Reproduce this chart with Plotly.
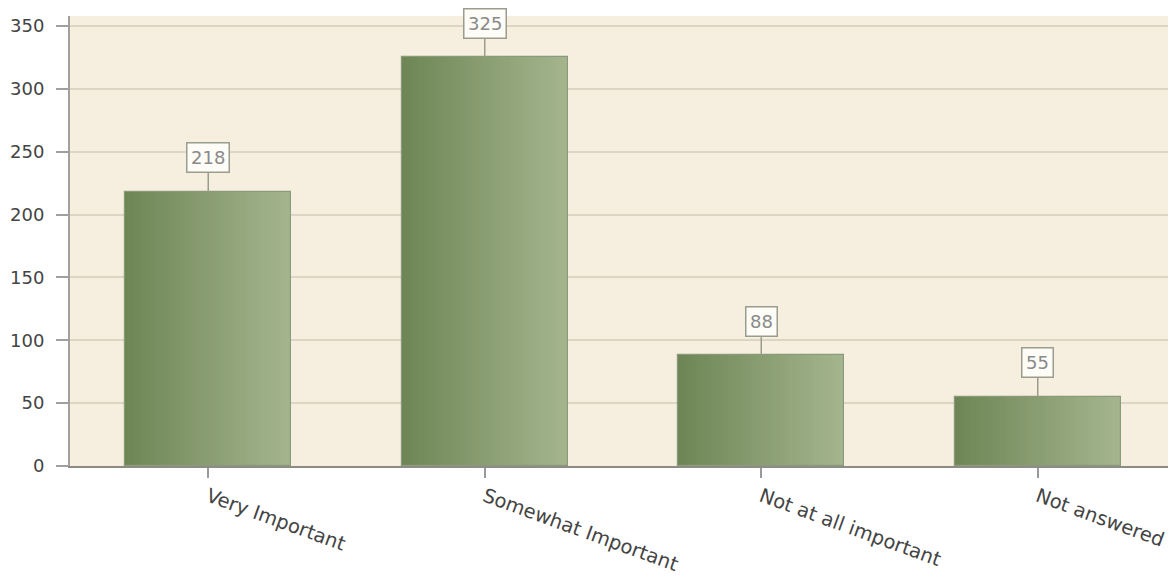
import plotly.graph_objects as go

categories = ["Very Important", "Somewhat Important", "Not at all important", "Not answered"]
values = [218, 325, 88, 55]
y_ticks = [0, 50, 100, 150, 200, 250, 300, 350]

BAR_W = 0.6
N_SLICES = 40
c_left = (110, 134, 86)
c_right = (164, 181, 141)

fig = go.Figure()
for i in range(N_SLICES):
    t = i / (N_SLICES - 1)
    col = tuple(round(a + (b - a) * t) for a, b in zip(c_left, c_right))
    fig.add_trace(go.Bar(
        x=categories, y=values,
        width=BAR_W / N_SLICES * 1.05,
        offset=-BAR_W / 2 + i * BAR_W / N_SLICES,
        marker=dict(color="rgb(%d,%d,%d)" % col, line=dict(width=0)),
        hoverinfo="skip", showlegend=False,
    ))
# outline
fig.add_trace(go.Bar(
    x=categories, y=values, width=BAR_W, offset=-BAR_W / 2,
    marker=dict(color="rgba(0,0,0,0)", line=dict(color="#8c9a7c", width=1.2)),
    showlegend=False,
))

for c, v in zip(categories, values):
    fig.add_annotation(
        x=c, y=v, text=str(v), showarrow=True, arrowhead=0, arrowwidth=1.5,
        arrowcolor="#9a9c8c", ax=0, ay=-34,
        bgcolor="#fdfcf7", bordercolor="#9a9c8c", borderwidth=1.5, borderpad=3.5,
        font=dict(family="DejaVu Sans", size=18, color="#8a8a8a"),
    )

fig.update_layout(
    width=1168, height=571,
    margin=dict(l=62, r=0, t=8, b=113),
    paper_bgcolor="white", plot_bgcolor="#f6efe0",
    barmode="overlay", bargap=0,
    font=dict(family="DejaVu Sans", size=18, color="#444444"),
    showlegend=False,
)
fig.update_xaxes(
    type="category", range=[-0.5, 3.5],
    tickangle=20, ticks="outside", ticklen=10, tickcolor="#9a9a9a", tickwidth=1.5,
    showline=True, linecolor="#8c8c84", linewidth=2,
    tickfont=dict(family="DejaVu Sans", size=19.5, color="#444444"),
    showgrid=False,
)
fig.update_yaxes(
    range=[0, 358], tickvals=y_ticks,
    ticks="outside", ticklen=12, tickcolor="#a0a0a0", tickwidth=1.5,
    showline=True, linecolor="#a0a0a0", linewidth=2,
    gridcolor="#ddd5c4", gridwidth=1.5, zeroline=False,
    ticklabelstandoff=8,
    tickfont=dict(family="DejaVu Sans", size=18, color="#444444"),
)

fig.write_html("out.html")
